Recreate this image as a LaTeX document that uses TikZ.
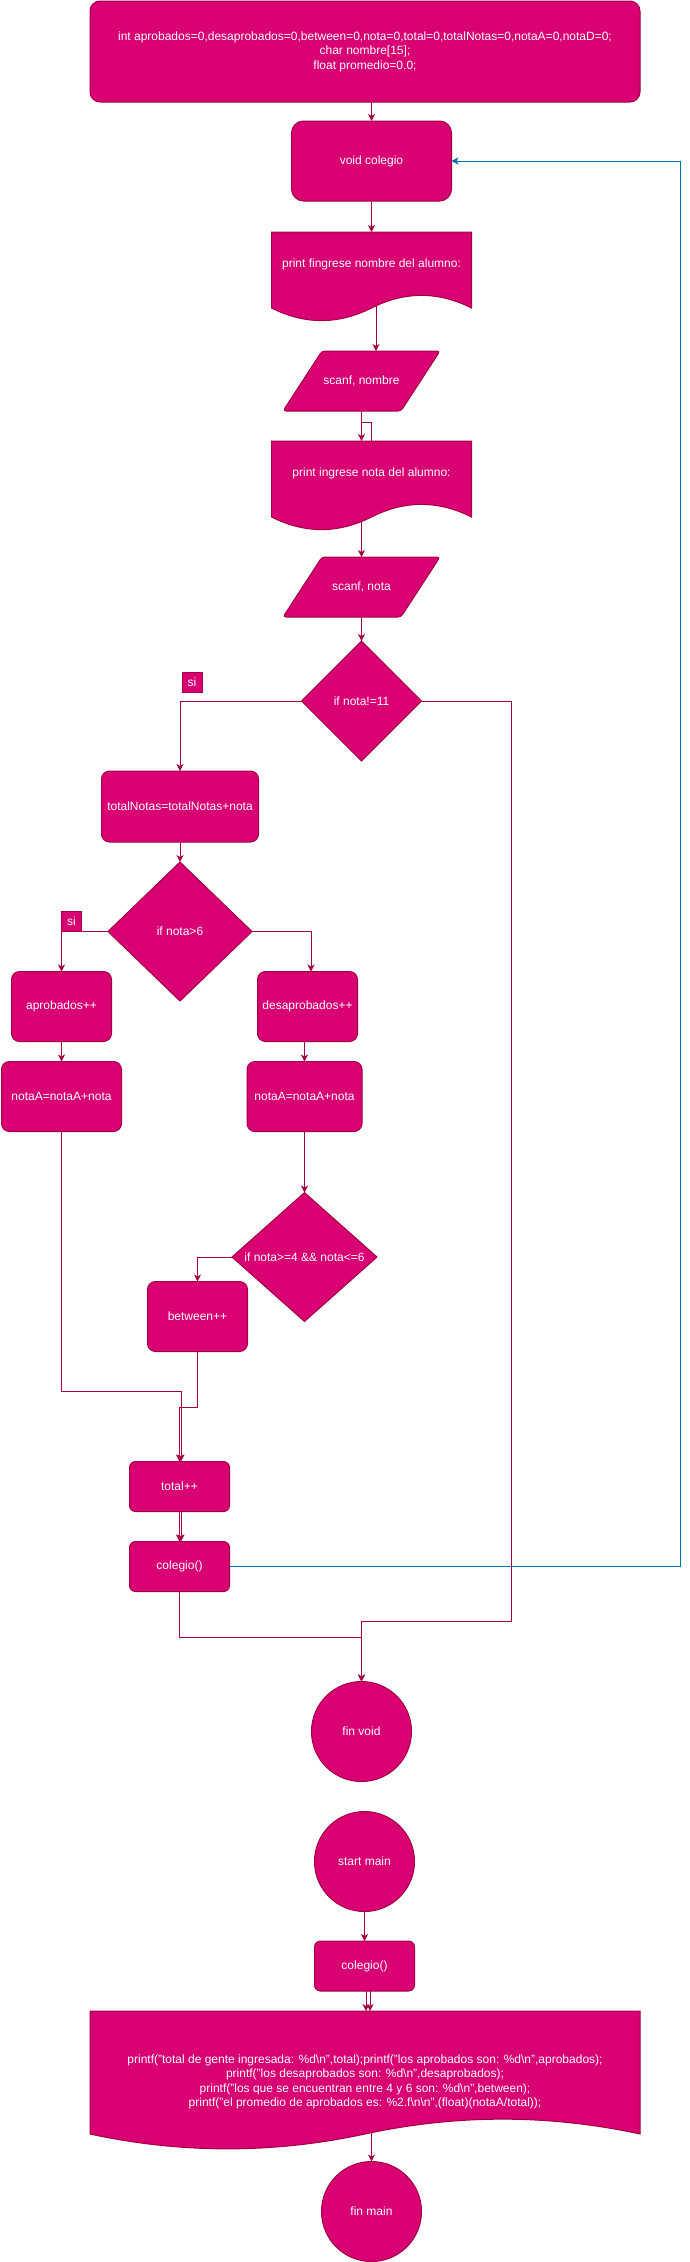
\documentclass[tikz,border=0pt]{standalone}
\usepackage{fontspec}
\setmainfont{Liberation Sans}
\usetikzlibrary{shapes.geometric, arrows.meta, backgrounds}
\definecolor{magfill}{HTML}{D80073}
\definecolor{magline}{HTML}{A50040}
\definecolor{bluline}{HTML}{006EAF}
\tikzstyle{shapebase} = [font=\fontsize{12}{14.4}\selectfont, text=white, fill=magfill, draw=magline, line width=1pt, align=center, inner sep=0pt, outer sep=0pt]
\tikzstyle{process} = [shapebase, rectangle, rounded corners=8pt, minimum width=100pt, minimum height=70pt]
\tikzstyle{io} = [shapebase, rectangle, fill=none, draw=none, minimum width=157pt, minimum height=60pt]
\tikzstyle{decision} = [shapebase, diamond, minimum width=120pt, minimum height=120pt]
\tikzstyle{doc} = [shapebase, rectangle, fill=none, draw=none, minimum width=200pt, minimum height=64pt]
\tikzstyle{startstop} = [shapebase, circle, minimum size=100pt]
\tikzstyle{silabel} = [shapebase, rectangle, rounded corners=0pt, minimum width=20pt, minimum height=20pt]
\tikzstyle{arrow} = [line width=1pt, draw=magline, ->, >={Stealth[length=7pt, width=7pt, inset=2pt]}]
\tikzstyle{arrowblue} = [arrow, draw=bluline]
\tikzstyle{link} = [line width=1pt, draw=magline]
% wavy bottom of a document box: node, width, depth of the wave line, wave height
\newcommand{\docshape}[4]{%
  \fill[fill=magfill, draw=magline, line width=1pt, shift={(#1.north west)}]
    (0,0) -- (#2,0) -- (#2,-#3)
    .. controls ({5*#2/6},{-#3+0.6*#4}) and ({2*#2/3},{-#3+0.6*#4}) .. ({#2/2},-#3)
    .. controls ({#2/3},{-#3-0.6*#4}) and ({#2/6},{-#3-0.6*#4}) .. (0,-#3) -- cycle;}
% slanted input box: node, slant
\newcommand{\ioshape}[2]{%
  \fill[fill=magfill, draw=magline, line width=1pt, rounded corners=3pt]
    (#1.south west) -- ([xshift=-#2pt]#1.south east) -- (#1.north east) -- ([xshift=#2pt]#1.north west) -- cycle;}

\begin{document}
\begin{tikzpicture}[x=1pt, y=1pt, node distance=100pt]
\useasboundingbox (0,0) rectangle (690,-2262);

% void colegio
\node (decl) [process, minimum width=550pt, minimum height=101pt, rounded corners=10pt] at (365,-51.5) {int aprobados=0,desaprobados=0,between=0,nota=0,total=0,totalNotas=0,notaA=0,notaD=0;\\char nombre[15];\\float promedio=0.0;};
\node (pro1) [process, below of=decl, yshift=-9.5pt, xshift=6.5pt, minimum width=160pt, minimum height=80pt, rounded corners=12pt] {void colegio};
\node (doc1) [doc, below of=pro1, yshift=-3pt] {print fingrese nombre del alumno:};
\node (io1) [io, below of=doc1, yshift=-17pt, xshift=-10pt] {scanf, nombre};
\node (doc2) [doc, below of=io1, yshift=8pt, xshift=10pt] {print ingrese nota del alumno:};
\node (io2) [io, below of=doc2, yshift=-14pt, xshift=-10pt] {scanf, nota};
\node (dec1) [decision, below of=io2, yshift=-14pt] {if nota!=11};

\node (pro2) [process, below of=dec1, yshift=-5.5pt, xshift=-181.5pt, minimum width=157pt, minimum height=71pt] {totalNotas=totalNotas+nota};
\node (dec2) [decision, below of=pro2, yshift=-25pt, minimum width=144pt, minimum height=139pt] {if nota>6};
\node (pro3) [process, below of=dec2, yshift=25pt, xshift=-118.5pt] {aprobados++};
\node (pro4) [process, below of=dec2, yshift=25pt, xshift=127.5pt] {desaprobados++};
\node (pro5) [process, below of=pro3, yshift=10pt, minimum width=120pt] {notaA=notaA+nota};
\node (pro6) [process, below of=pro4, yshift=10pt, xshift=-3pt, minimum width=115pt] {notaA=notaA+nota};
\node (dec3) [decision, below of=pro6, yshift=-60.5pt, minimum width=145pt, minimum height=110pt] {if nota>=4 \&\& nota<=6};
\node (pro7) [process, below of=dec3, yshift=40.5pt, xshift=-107pt] {between++};
\node (pro8) [process, below of=pro7, yshift=-70pt, xshift=-18pt, minimum height=50pt, rounded corners=6pt] {total++};
\node (pro9) [process, below of=pro8, yshift=20pt, minimum height=50pt, rounded corners=6pt] {colegio()};
\node (stop1) [startstop, below of=pro9, yshift=-65pt, xshift=182pt] {fin void};

\node (si1) [silabel, anchor=south west] at ([xshift=2pt, yshift=9pt]pro2.north |- dec1.west) {si};
\node (si2) [silabel, anchor=south west] at (pro3.north |- dec2.west) {si};

% main
\node (start2) [startstop, below of=stop1, yshift=-30pt, xshift=3pt] {start main};
\node (pro10) [process, below of=start2, yshift=-4.5pt, minimum height=50pt, rounded corners=6pt] {colegio()};
\node (doc3) [doc, below of=pro10, yshift=-16pt, xshift=0.5pt, minimum width=550pt, minimum height=142pt] {printf("total de gente ingresada: \%d\textbackslash n",total);printf("los aprobados son: \%d\textbackslash n",aprobados);\\printf("los desaprobados son: \%d\textbackslash n",desaprobados);\\printf("los que se encuentran entre 4 y 6 son: \%d\textbackslash n",between);\\printf("el promedio de aprobados es: \%2.f\textbackslash n\textbackslash n",(float)(notaA/total));};
\node (stop2) [startstop, below of=doc3, yshift=-29.5pt, xshift=6.5pt] {fin main};

\begin{pgfonlayer}{background}
\docshape{doc1}{200}{76}{28}
\docshape{doc2}{200}{76}{28}
\docshape{doc3}{550}{123}{33}
\ioshape{io1}{39}
\ioshape{io2}{39}
\end{pgfonlayer}

\draw [arrow] (decl.south -| pro1.north) -- (pro1.north);
\draw [arrow] (pro1.south) -- (doc1.north);
\draw [arrow] ([xshift=4.5pt, yshift=-10pt]doc1.south) -- ([xshift=4.5pt]doc1.south |- io1.north);
\draw [arrow] (io1.south) -- (io1.south |- doc2.north);
\draw [link] (io1.south) -- ++(0,-11) -| (doc2.north);
\draw [arrow] ([yshift=-17pt]doc2.south -| io2.north) -- (io2.north);
\draw [arrow] (io2.south) -- (dec1.north);

\draw [arrow] (dec1.west) -| (pro2.north);
\draw [arrow] (dec1.east) -- ++(90,0) |- ([yshift=60pt]stop1.north) -- (stop1.north);
\draw [arrow] (pro2.south) -- (dec2.north);
\draw [arrow] (dec2.west) -| (pro3.north);
\draw [arrow] (dec2.east) -| ([xshift=3.5pt]pro4.north);
\draw [arrow] (pro3.south) -- (pro5.north);
\draw [arrow] (pro6.north |- pro4.south) -- (pro6.north);
\draw [arrow] (pro6.south) -- (dec3.north);
\draw [arrow] (dec3.west) -| (pro7.north);
\draw [arrow] (pro5.south) -- ++(0,-259.5) -| ([xshift=1.5pt]pro8.north);
\draw [arrow] (pro7.south) -- ++(0,-55.5) -| (pro8.north);
\draw [arrow] (pro8.south) -- (pro9.north);
\draw [arrow] ([xshift=1.5pt]pro8.south) -- ([xshift=1.5pt]pro9.north);
\draw [arrow] (pro9.south) -- ++(0,-45.5) -| (stop1.north);
\draw [arrowblue] (pro9.east) -- ++(451,0) |- (pro1.east);

\draw [arrow] (start2.south) -- (pro10.north);
\draw [arrow] ([xshift=1.5pt]pro10.south) -- ([xshift=1.5pt]pro10.south |- doc3.north);
\draw [arrow] ([xshift=5.5pt]pro10.south) -- ([xshift=5.5pt]pro10.south |- doc3.north);
\draw [arrow] ([yshift=20.5pt]doc3.south -| stop2.north) -- (stop2.north);
\end{tikzpicture}
\end{document}
